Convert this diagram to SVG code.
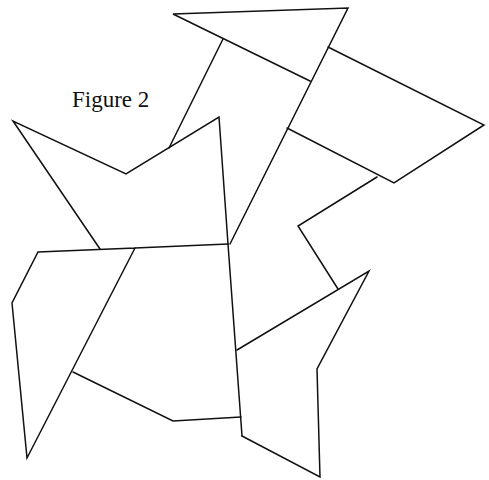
<svg xmlns="http://www.w3.org/2000/svg" width="489" height="480" viewBox="0 0 489 480">
<style>
.l{fill:none;stroke:#111;stroke-width:1.5;stroke-linejoin:miter;stroke-linecap:round}
.t{font-family:"Liberation Serif",serif;font-size:23px;fill:#111}
</style>
<rect width="489" height="480" fill="#fff"/>
<text class="t" x="72" y="107">Figure 2</text>
<g class="l">
<polyline points="310,81 173,14 348,8 230,244"/>
<line x1="223" y1="39" x2="169" y2="148"/>
<polyline points="328,47 484,125 394,183 287,128"/>
<polyline points="377,177 298,226 338,289"/>
<polyline points="100,249 13,121 126,174 219,117 228,244"/>
<polyline points="135,248 38,252 12,303 27,458 135,248"/>
<line x1="135" y1="248" x2="228" y2="244"/>
<polyline points="73,372 173,421 241,417"/>
<line x1="228" y1="244" x2="242" y2="436"/>
<polyline points="237,350 369,271 317,369 320,477 242,436"/>
</g>
</svg>
